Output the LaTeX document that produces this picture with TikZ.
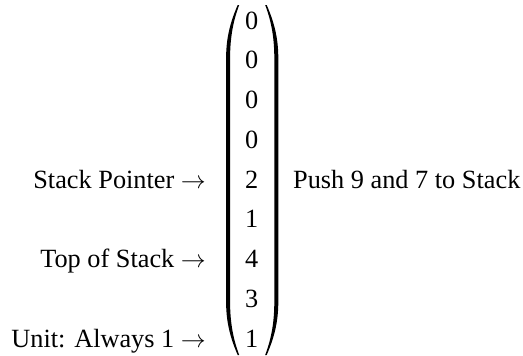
\documentclass[tikz,border=0pt]{standalone}
\usepackage{fontspec}
\setmainfont{Liberation Serif}
\begin{document}
\begin{tikzpicture}[x=1pt,y=-1pt,
  txt/.style={font=\fontsize{26.3}{31}\selectfont, inner sep=0pt},
  entry/.style={txt, anchor=base},
  lbl/.style={txt, anchor=base east},
  note/.style={txt, anchor=base west}]
\useasboundingbox (0,0) rectangle (523,356);
% stack column
\foreach \v [count=\i from 0] in {0,0,0,0,2,1,4,3,1}
  \node[entry] (e\i) at (251.6, 29+39.75*\i) {\v};
% parentheses around the column
\foreach \s in {1,-1}{
  \begin{scope}[shift={(252.2,0)}, xscale=\s]
    \fill (-14.5,5) .. controls (-21,20) and (-26.1,36) .. (-26.1,58)
      -- (-26.1,302) .. controls (-26.1,324) and (-21,340) .. (-14.5,355)
      -- (-13,355) .. controls (-18.6,340) and (-22.1,324) .. (-22.1,302)
      -- (-22.1,58) .. controls (-22.1,36) and (-18.6,20) .. (-13,5) -- cycle;
  \end{scope}
}
% labels
\node[lbl] (sp) at (206,188) {Stack Pointer $\rightarrow$};
\node[lbl] (tos) at (206,267.5) {Top of Stack $\rightarrow$};
\node[lbl] (unit) at (206,347) {Unit: Always 1 $\rightarrow$};
\node[note] (push) at (293,188) {Push 9 and 7 to Stack};
\end{tikzpicture}
\end{document}
